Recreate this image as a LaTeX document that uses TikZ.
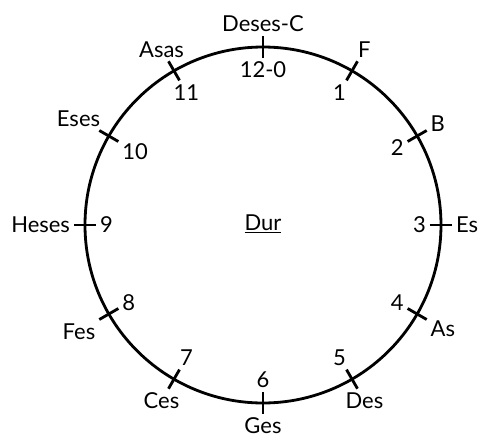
\documentclass[tikz,border=0pt]{standalone}
\usepackage{fontspec}
\setmainfont{Lato}
\begin{document}
\begin{tikzpicture}[x=0.2mm, y=0.2mm, line width=1.6pt,
    nhan/.style={inner sep=1.5pt, font=\fontsize{12.5}{14}\selectfont}]
    % Tâm O(0,0), bán kính R = 178
    % Vạch thứ k nằm ở góc 90 - 30k, dài từ 167 đến 189
    \useasboundingbox (-263,-214) rectangle (215,225);

    % 1. Vẽ đường tròn
    \draw (0,0) circle [radius=178];

    % 2. Vạch chia và nhãn trong / ngoài
    \foreach \k/\trong/\ngoai in {0/12-0/Deses-C, 1/1/F, 2/2/B, 3/3/Es,
        4/4/As, 5/5/Des, 6/6/Ges, 7/7/Ces, 8/8/Fes, 9/9/Heses,
        10/10/Eses, 11/11/Asas} {
        \pgfmathtruncatemacro{\goc}{mod(450-30*\k,360)}
        \pgfmathtruncatemacro{\gocn}{mod(\goc+180,360)}
        \coordinate (a\k) at (\goc:167);
        \coordinate (b\k) at (\goc:189);
        \draw (a\k) -- (b\k);
        \node[nhan, anchor=\goc] (trong\k) at (a\k) {\trong};
        \node[nhan, anchor=\gocn] (ngoai\k) at (b\k) {\ngoai};
    }

    % 3. Nhãn ở tâm
    \node[nhan] (dur) at (0,1) {\underline{Dur}};

\end{tikzpicture}
\end{document}
